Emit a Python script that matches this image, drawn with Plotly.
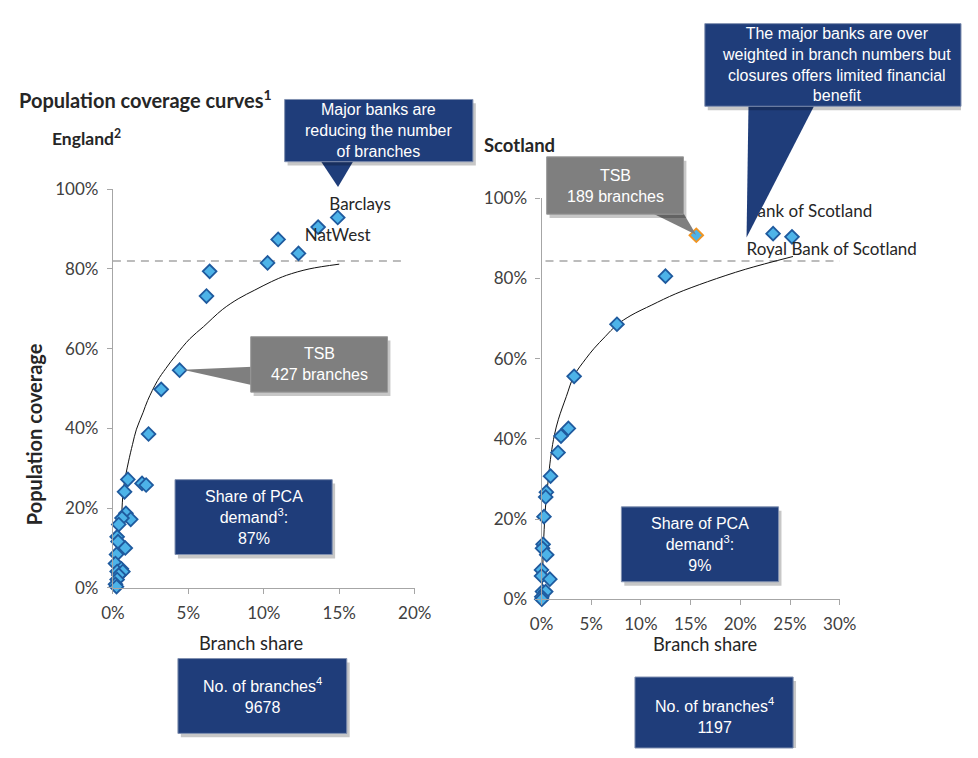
import plotly.graph_objects as go

# ---------------- DATA (in %) ----------------
ENG_X = [14.9, 13.6, 10.95, 12.3, 10.25, 6.41, 6.2, 4.42, 3.2, 2.36, 0.99, 0.77, 1.93, 2.2,
         0.86, 1.18, 0.6, 0.39, 0.28, 0.34, 0.82, 0.24, 0.17, 0.56, 0.28, 0.66, 0.39, 0.28, 0.17, 0.24]
ENG_Y = [92.9, 90.5, 87.4, 83.9, 81.5, 79.4, 73.2, 54.6, 49.8, 38.6, 27.2, 24.1, 26.2, 25.8,
         18.7, 17.2, 17.5, 15.9, 12.8, 11.6, 10.0, 8.4, 6.1, 4.8, 4.1, 4.1, 3.2, 2.1, 0.9, 0.3]
ENG_CURVE_X = [0.17, 0.28, 0.39, 0.56, 0.71, 1.03, 1.3, 1.56, 2.0, 2.3, 2.96, 3.5, 4.2, 5.1,
               6.0, 7.25, 8.3, 9.4, 10.5, 11.5, 13.0, 15.0]
ENG_CURVE_Y = [0.0, 6.5, 13.0, 17.9, 25.2, 31.6, 36.0, 39.8, 44.0, 47.0, 52.0, 55.0, 58.5, 62.5,
               65.5, 69.8, 72.5, 74.7, 76.8, 78.4, 80.0, 81.2]
ENG_THRESHOLD = 82.0

SCO_X = [15.57, 23.3, 25.2, 12.47, 7.59, 3.28, 2.70, 1.96, 1.66, 0.91, 0.49, 0.42, 0.25, 0.16,
         0.10, 0.52, 0.0, 0.0, 0.84, 0.10, 0.42, 0.03, 0.03]
SCO_Y = [90.8, 91.2, 90.4, 80.6, 68.6, 55.6, 42.6, 40.7, 36.6, 30.7, 26.7, 25.5, 20.6, 13.7,
         12.7, 11.1, 7.3, 5.8, 5.0, 1.9, 1.9, 0.6, 0.0]
SCO_CURVE_X = [0.07, 0.15, 0.23, 0.4, 0.56, 0.95, 1.3, 1.7, 2.5, 3.26, 4.46, 5.3, 6.4, 7.56,
               9.0, 11.1, 13.5, 16.7, 20.5, 25.3]
SCO_CURVE_Y = [1.0, 10.0, 15.6, 23.0, 27.0, 35.9, 41.0, 44.9, 50.6, 55.7, 60.0, 62.6, 65.5, 68.4,
               70.8, 73.4, 76.2, 79.2, 82.3, 85.5]
SCO_THRESHOLD = 84.4
SCO_TSB_INDEX = 0

ENG_LABELS = ["Barclays", "NatWest"]
ENG_LABEL_IDX = [0, 1]
SCO_LABELS = ["Bank of Scotland", "Royal Bank of Scotland"]
SCO_LABEL_IDX = [1, 2]

X_TICKS_ENG = [0, 5, 10, 15, 20]
X_TICKS_SCO = [0, 5, 10, 15, 20, 25, 30]
Y_TICKS = [0, 20, 40, 60, 80, 100]

# ---------------- STYLE ----------------
W, H = 978, 758
def px(x): return min(x, W) / W
def py(y): return 1 - min(y, H) / H

NAVY = "#1F3D7A"
GREY_BOX = "#7F7F7F"
MK_FILL = "#4DB3E8"
MK_LINE = "#1F5A9E"
ORANGE = "#F39420"
AXIS_C = "#A6A6A6"
TXT = "#262626"
CAL = "Lato, Carlito, sans-serif"
ARIAL = "Liberation Sans, Arial, sans-serif"

# label offsets in axis units (left edge / vertical centre of label vs its point)
ENG_LABEL_OFF = [(-0.56, 2.85), (-0.89, -2.3)]
SCO_LABEL_OFF = [(-2.65, 5.1), (-4.57, -3.5)]

fig = go.Figure()

marker = dict(symbol="diamond", size=10.5, color=MK_FILL, line=dict(color=MK_LINE, width=1.8))

# England
fig.add_trace(go.Scatter(x=[0, 19.4], y=[ENG_THRESHOLD] * 2, mode="lines",
                         line=dict(color=AXIS_C, width=1.5, dash="8px,6px"),
                         xaxis="x", yaxis="y", hoverinfo="skip"))
fig.add_trace(go.Scatter(x=ENG_CURVE_X, y=ENG_CURVE_Y, mode="lines", line=dict(color="#111111", width=1),
                         line_shape="spline", xaxis="x", yaxis="y", hoverinfo="skip"))
fig.add_trace(go.Scatter(x=ENG_X, y=ENG_Y, mode="markers", marker=marker, cliponaxis=False,
                         xaxis="x", yaxis="y"))
fig.add_trace(go.Scatter(
    x=[ENG_X[i] + o[0] for i, o in zip(ENG_LABEL_IDX, ENG_LABEL_OFF)],
    y=[ENG_Y[i] + o[1] for i, o in zip(ENG_LABEL_IDX, ENG_LABEL_OFF)],
    text=ENG_LABELS, mode="text", textposition="middle right", cliponaxis=False,
    textfont=dict(family=CAL, size=17, color=TXT), xaxis="x", yaxis="y", hoverinfo="skip"))

# Scotland
fig.add_trace(go.Scatter(x=[0.4, 30], y=[SCO_THRESHOLD] * 2, mode="lines",
                         line=dict(color=AXIS_C, width=1.5, dash="8px,6px"),
                         xaxis="x2", yaxis="y2", hoverinfo="skip"))
fig.add_trace(go.Scatter(x=SCO_CURVE_X, y=SCO_CURVE_Y, mode="lines", line=dict(color="#111111", width=1),
                         line_shape="spline", xaxis="x2", yaxis="y2", hoverinfo="skip"))
line_colors = [ORANGE if i == SCO_TSB_INDEX else MK_LINE for i in range(len(SCO_X))]
fig.add_trace(go.Scatter(x=SCO_X, y=SCO_Y, mode="markers", cliponaxis=False,
                         marker=dict(symbol="diamond", size=10.5, color=MK_FILL,
                                     line=dict(color=line_colors, width=1.8)),
                         xaxis="x2", yaxis="y2"))
fig.add_trace(go.Scatter(
    x=[SCO_X[i] + o[0] for i, o in zip(SCO_LABEL_IDX, SCO_LABEL_OFF)],
    y=[SCO_Y[i] + o[1] for i, o in zip(SCO_LABEL_IDX, SCO_LABEL_OFF)],
    text=SCO_LABELS, mode="text", textposition="middle right", cliponaxis=False,
    textfont=dict(family=CAL, size=17, color=TXT), xaxis="x2", yaxis="y2", hoverinfo="skip"))

axis_common = dict(showgrid=False, zeroline=False, showline=True, linecolor=AXIS_C, linewidth=1.2,
                   ticks="outside", ticklen=5, tickcolor=AXIS_C, tickwidth=1.2,
                   tickfont=dict(family=CAL, size=17, color="#404040"), fixedrange=True)

def pct(vals): return [f"{v}%" for v in vals]

fig.update_layout(
    width=W, height=H, margin=dict(l=0, r=0, t=0, b=0),
    paper_bgcolor="white", plot_bgcolor="white", showlegend=False,
    xaxis=dict(domain=[px(104), px(415)], range=[0, 20], tickvals=X_TICKS_ENG, ticktext=pct(X_TICKS_ENG),
               anchor="y", ticklabelstandoff=5, **axis_common),
    yaxis=dict(domain=[py(593.3), py(183.3)], range=[0, 100], tickvals=Y_TICKS, ticktext=pct(Y_TICKS),
               anchor="x", ticklabelstandoff=5, **axis_common),
    xaxis2=dict(domain=[px(545.7), px(853)], range=[0, 30], tickvals=X_TICKS_SCO, ticktext=pct(X_TICKS_SCO),
                anchor="y2", ticklabelstandoff=4, **axis_common),
    yaxis2=dict(domain=[py(605), py(192.7)], range=[0, 100], tickvals=Y_TICKS, ticktext=pct(Y_TICKS),
                anchor="x2", ticklabelstandoff=5, **axis_common),
)

shapes = []
annotations = []

def box(x0, y0, x1, y1, color, lines, size=16, cx=None, cy=None):
    shapes.append(dict(type="rect", xref="paper", yref="paper", x0=px(x0 + 3), x1=px(x1 + 3),
                       y0=py(y1 + 4), y1=py(y0 + 4), fillcolor="rgba(0,0,0,0.22)", line=dict(width=0),
                       layer="above"))
    shapes.append(dict(type="rect", xref="paper", yref="paper", x0=px(x0), x1=px(x1),
                       y0=py(y1), y1=py(y0), fillcolor=color,
                       line=dict(color="#8090B0" if color == NAVY else "#999999", width=1),
                       layer="above"))
    tx = cx if cx is not None else (x0 + x1) / 2
    ty = cy if cy is not None else (y0 + y1) / 2
    annotations.append(dict(xref="paper", yref="paper", x=tx / W, y=1 - ty / H,
                            xanchor="center", yanchor="middle", showarrow=False, align="center",
                            text="<br>".join(lines), font=dict(family=ARIAL, size=size, color="white")))

def tail(pts, color):
    path = "M " + " L ".join(f"{px(x)},{py(y)}" for x, y in pts) + " Z"
    shapes.append(dict(type="path", xref="paper", yref="paper", path=path, fillcolor=color,
                       line=dict(width=0), layer="above"))

# callout tails
tail([(318, 154), (352, 154), (336, 181)], NAVY)
tail([(176, 369), (248, 366), (248, 385)], GREY_BOX)
tail([(660, 208), (692, 208), (705, 230)], GREY_BOX)
tail([(759, 97), (827, 97), (757, 233)], NAVY)

box(281, 91, 475, 155, NAVY, ["Major banks are", "reducing the number", "of branches"])
box(246, 335, 387, 392, GREY_BOX, ["TSB", "427 branches"])
box(168, 482, 330, 559, NAVY, ["Share of PCA", "demand<sup>3</sup>:", "87%"])
box(171, 666, 345, 743, NAVY, ["No. of branches<sup>4</sup>", "9678"])
box(551, 150, 692, 209, GREY_BOX, ["TSB", "189 branches"])
box(714, 13, 986, 98, NAVY, ["The major banks are over", "weighted in branch numbers but",
                              "closures offers limited financial", "benefit"], cx=850, cy=55.5)
box(628, 510, 790, 587, NAVY, ["Share of PCA", "demand<sup>3</sup>:", "9%"])
box(642, 685, 805, 765, NAVY, ["No. of branches<sup>4</sup>", "1197"], cx=723.5, cy=725)

# titles and axis titles
annotations += [
    dict(xref="paper", yref="paper", x=px(5), y=py(90), xanchor="left", yanchor="middle", showarrow=False,
         text="<b>Population coverage curves<sup>1</sup></b>", font=dict(family=CAL, size=20, color=TXT)),
    dict(xref="paper", yref="paper", x=px(39), y=py(130), xanchor="left", yanchor="middle", showarrow=False,
         text="<b>England<sup>2</sup></b>", font=dict(family=CAL, size=17.5, color=TXT)),
    dict(xref="paper", yref="paper", x=px(484), y=py(138), xanchor="left", yanchor="middle", showarrow=False,
         text="<b>Scotland</b>", font=dict(family=CAL, size=18.5, color=TXT)),
    dict(xref="paper", yref="paper", x=px(23), y=py(435), xanchor="center", yanchor="middle", showarrow=False,
         textangle=-90, text="<b>Population coverage</b>", font=dict(family=CAL, size=20, color=TXT)),
    dict(xref="paper", yref="paper", x=px(246), y=py(650), xanchor="center", yanchor="middle", showarrow=False,
         text="Branch share", font=dict(family=CAL, size=18.3, color=TXT)),
    dict(xref="paper", yref="paper", x=px(714), y=py(651), xanchor="center", yanchor="middle", showarrow=False,
         text="Branch share", font=dict(family=CAL, size=18.3, color=TXT)),
]

fig.update_layout(shapes=shapes, annotations=annotations)
fig.write_html(
    "out.html",
    post_script=("var gd=document.getElementById('{plot_id}');"
                 "document.documentElement.style.margin='0';document.body.style.margin='0';"
                 "document.body.style.padding='0';document.body.style.overflow='hidden';"
                 "gd.style.position='fixed';gd.style.left='0px';gd.style.top='0px';"),
)
